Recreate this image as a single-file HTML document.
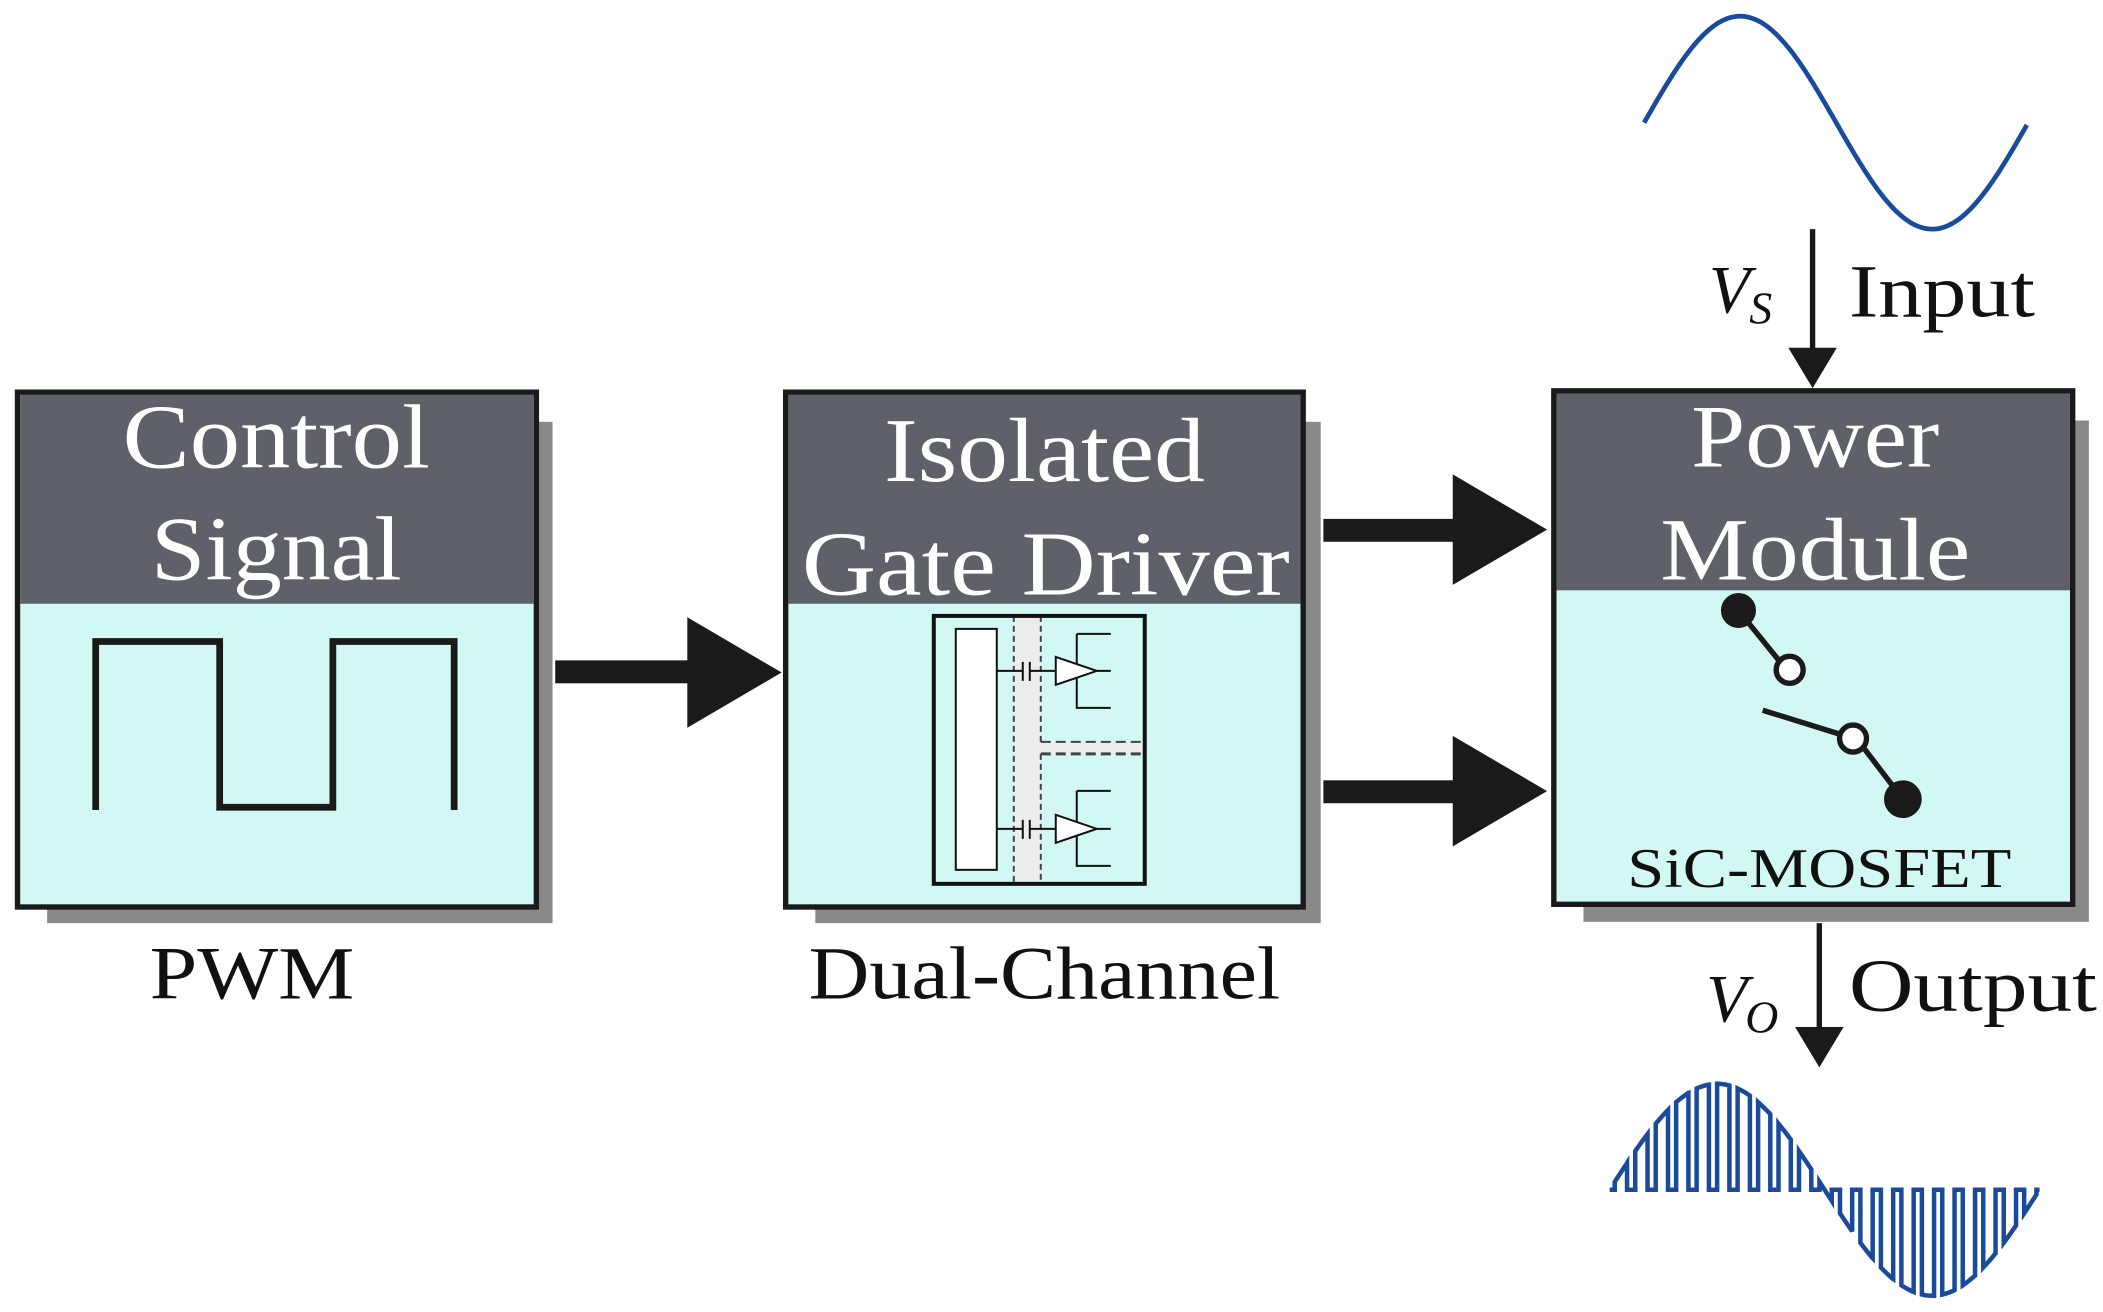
<!DOCTYPE html>
<html><head><meta charset="utf-8"><style>
html,body{margin:0;padding:0;background:#fff;}
svg{display:block;}
text{font-family:"Liberation Serif",serif;}
</style></head><body>
<svg id="s" width="2103" height="1312" viewBox="0 0 1560.5 973.5" xmlns="http://www.w3.org/2000/svg">
<rect x="35" y="313" width="375" height="372" fill="#898989"/>
<rect x="13" y="291" width="385" height="382" fill="#d2f8f3" stroke="#1a1a1a" stroke-width="4"/>
<rect x="15" y="293" width="381" height="155" fill="#5f6169"/>
<text x="205" y="347" font-size="68" fill="#fff" text-anchor="middle" textLength="228" lengthAdjust="spacingAndGlyphs">Control</text>
<text x="205" y="430" font-size="68" fill="#fff" text-anchor="middle" textLength="186" lengthAdjust="spacingAndGlyphs">Signal</text>
<polyline points="71,601 71,476 163,476 163,599 247,599 247,476 337,476 337,601" fill="none" stroke="#1a1a1a" stroke-width="5"/>
<text x="187" y="741" font-size="56" fill="#111" text-anchor="middle" textLength="152" lengthAdjust="spacingAndGlyphs">PWM</text>

<rect x="412" y="490" width="100" height="17" fill="#1a1a1a"/>
<polygon points="510,458 580,499 510,540" fill="#1a1a1a"/>

<rect x="605" y="313" width="375" height="372" fill="#898989"/>
<rect x="583" y="291" width="384" height="382" fill="#d2f8f3" stroke="#1a1a1a" stroke-width="4"/>
<rect x="585" y="293" width="380" height="155" fill="#5f6169"/>
<text x="775" y="357" font-size="68" fill="#fff" text-anchor="middle" textLength="238" lengthAdjust="spacingAndGlyphs">Isolated</text>
<text x="776" y="441" font-size="68" fill="#fff" text-anchor="middle" textLength="362" lengthAdjust="spacingAndGlyphs">Gate Driver</text>
<text x="775" y="741" font-size="56" fill="#111" text-anchor="middle" textLength="350" lengthAdjust="spacingAndGlyphs">Dual-Channel</text>

<g transform="scale(0.74187)" stroke-width="2">
  <rect x="1014" y="616" width="27" height="268" fill="#ececec"/>
  <rect x="1041" y="742" width="104" height="12" fill="#ececec"/>
  <line x1="1014" y1="616" x2="1014" y2="884" stroke="#444" stroke-dasharray="6,4"/>
  <line x1="1041" y1="616" x2="1041" y2="742" stroke="#444" stroke-dasharray="6,4"/>
  <line x1="1041" y1="754" x2="1041" y2="884" stroke="#444" stroke-dasharray="6,4"/>
  <line x1="1041" y1="742" x2="1145" y2="742" stroke="#444" stroke-dasharray="10,5"/>
  <line x1="1041" y1="754" x2="1145" y2="754" stroke="#444" stroke-width="3" stroke-dasharray="10,5"/>
  <rect x="956" y="629" width="41" height="241" fill="#fff" stroke="#111"/>
  <g stroke="#111" fill="none">
    <path d="M997 671 H1023 M1023 662 V681 M1030 662 V681 M1030 671 H1056"/>
    <path d="M997 829 H1023 M1023 820 V839 M1030 820 V839 M1030 829 H1056"/>
    <path d="M1077 634 H1111 M1077 634 V708 H1111 M1097 671 H1111"/>
    <path d="M1077 791 H1111 M1077 791 V866 H1111 M1097 829 H1111"/>
  </g>
  <polygon points="1056,657 1097,671 1056,685" fill="#fff" stroke="#111"/>
  <polygon points="1056,815 1097,829 1056,843" fill="#fff" stroke="#111"/>
  <rect x="934" y="616" width="211" height="268" fill="none" stroke="#111" stroke-width="4"/>
</g>

<rect x="982" y="385" width="98" height="17" fill="#1a1a1a"/>
<polygon points="1078,352 1148,393 1078,434" fill="#1a1a1a"/>
<rect x="982" y="579" width="98" height="17" fill="#1a1a1a"/>
<polygon points="1078,546 1148,587 1078,628" fill="#1a1a1a"/>

<rect x="1175" y="312" width="375" height="372" fill="#898989"/>
<rect x="1153" y="290" width="385" height="381" fill="#d2f8f3" stroke="#1a1a1a" stroke-width="4"/>
<rect x="1155" y="292" width="381" height="146" fill="#5f6169"/>
<text x="1347" y="346" font-size="66" fill="#fff" text-anchor="middle" textLength="184" lengthAdjust="spacingAndGlyphs">Power</text>
<text x="1347" y="430" font-size="66" fill="#fff" text-anchor="middle" textLength="230" lengthAdjust="spacingAndGlyphs">Module</text>
<g stroke="#1a1a1a" stroke-width="4">
  <line x1="1290" y1="453" x2="1320" y2="490"/>
  <line x1="1308" y1="527" x2="1366" y2="545"/>
  <line x1="1383" y1="555" x2="1412" y2="593"/>
  <circle cx="1290" cy="453" r="11" fill="#1a1a1a"/>
  <circle cx="1328" cy="497" r="10" fill="#fff"/>
  <circle cx="1375" cy="548" r="10" fill="#fff"/>
  <circle cx="1412" cy="593" r="12" fill="#1a1a1a"/>
</g>
<text x="1350" y="658" font-size="42" fill="#111" text-anchor="middle" textLength="285" lengthAdjust="spacingAndGlyphs">SiC-MOSFET</text>

<path id="sine" fill="none" stroke="#1a4a9c" stroke-width="3.5"/>
<line x1="1345" y1="170" x2="1345" y2="262" stroke="#1a1a1a" stroke-width="4"/>
<polygon points="1327,258 1363,258 1345,288" fill="#1a1a1a"/>
<text x="1268" y="232" font-size="50" font-style="italic" fill="#111">V</text>
<text x="1298" y="240" font-size="34" font-style="italic" fill="#111">S</text>
<text x="1372" y="235" font-size="56" fill="#111" textLength="138" lengthAdjust="spacingAndGlyphs">Input</text>

<line x1="1350" y1="685" x2="1350" y2="765" stroke="#1a1a1a" stroke-width="4"/>
<polygon points="1332,762 1368,762 1350,792" fill="#1a1a1a"/>
<text x="1266" y="758" font-size="50" font-style="italic" fill="#111">V</text>
<text x="1295" y="766" font-size="34" font-style="italic" fill="#111">O</text>
<text x="1372" y="750" font-size="56" fill="#111" textLength="184" lengthAdjust="spacingAndGlyphs">Output</text>

<g transform="scale(0.74187)"><path id="pwm" fill="none" stroke="#1a4a9c" stroke-width="4.5"/></g>
</svg>
<script>
(function(){
 var s="M1220,91";
 for(var x=1222;x<=1505;x+=2){s+=" L"+x+","+(91-79*Math.sin(2*Math.PI*(x-1220)/285)).toFixed(1);}
 document.getElementById("sine").setAttribute("d",s);
 var x0=1610,W=430,cy=1190,A=106,N=21,T=W/N,d="M"+x0+","+cy;
 function y(x){return cy-A*Math.sin(2*Math.PI*(x-x0)/W);}
 for(var k=0;k<N;k++){
   var a=x0+k*T+T*0.25,b=x0+k*T+T*0.85;
   d+=" L"+a.toFixed(1)+","+cy+" L"+a.toFixed(1)+","+y(a).toFixed(1);
   for(var xx=a;xx<=b;xx+=2){d+=" L"+xx.toFixed(1)+","+y(xx).toFixed(1);}
   d+=" L"+b.toFixed(1)+","+y(b).toFixed(1)+" L"+b.toFixed(1)+","+cy;
 }
 d+=" L"+(x0+W)+","+cy;
 document.getElementById("pwm").setAttribute("d",d);
})();
</script>
</body></html>
